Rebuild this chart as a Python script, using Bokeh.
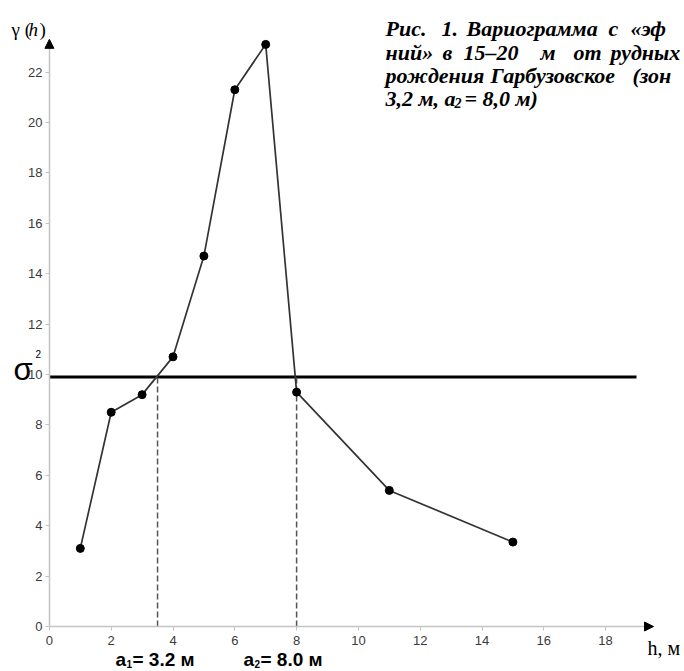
from bokeh.plotting import figure
from bokeh.models import Range1d, LinearAxis, FixedTicker, Arrow, NormalHead
from bokeh.core.properties import value
from bokeh.embed import file_html
from bokeh.resources import INLINE

# ---- data ----
h_vals = [1, 2, 3, 4, 5, 6, 7, 8, 11, 15]
gamma_vals = [3.1, 8.5, 9.2, 10.7, 14.7, 21.3, 23.1, 9.3, 5.4, 3.35]
sill = 9.9
range_x = [3.5, 8.0]
x_ticks = [0, 2, 4, 6, 8, 10, 12, 14, 16, 18]
y_ticks = [0, 2, 4, 6, 8, 10, 12, 14, 16, 18, 20, 22]
caption_lines = [
    ["Рис.", "1.", "Вариограмма", "с", "«эф"],
    ["ний»", "в", "15–20", "м", "от", "рудных"],
    ["рождения", "Гарбузовское", "(зон"],
]
a1_text = "= 3.2 м"
a2_text = "= 8.0 м"

# ---- pixel layout helpers ----
W, H = 684, 671
X0, XS = 48.9, 30.9
Y0, YS = 626.0, 25.2

def dx(px):
    return (px - X0) / XS

def dy(py):
    return (Y0 - py) / YS

p = figure(width=W, height=H, output_backend="svg", toolbar_location=None,
           x_range=Range1d(dx(0), dx(W)), y_range=Range1d(dy(H), dy(0)),
           x_axis_location=None, y_axis_location=None, min_border=0)
p.outline_line_color = None
p.grid.grid_line_color = None
p.background_fill_color = "white"

axis_col = "#c4c4c4"
lab_col = "#3a3a3a"

xaxis = LinearAxis(fixed_location=0, ticker=FixedTicker(ticks=x_ticks), bounds=(0, 19.5))
yaxis = LinearAxis(fixed_location=0, ticker=FixedTicker(ticks=y_ticks), bounds=(0, 23.2))
for ax in (xaxis, yaxis):
    ax.axis_line_color = axis_col
    ax.axis_line_width = 1.5
    ax.major_tick_line_color = axis_col
    ax.major_tick_out = 4
    ax.major_tick_in = 0
    ax.minor_tick_line_color = None
    ax.major_label_text_font = "Liberation Sans"
    ax.major_label_text_font_size = "13px"
    ax.major_label_text_color = lab_col
xaxis.major_label_standoff = 5
yaxis.major_label_standoff = 3
p.add_layout(xaxis, "below")
p.add_layout(yaxis, "left")

p.add_layout(Arrow(end=NormalHead(size=9, fill_color="black", line_color="black"),
                   x_start=19.2, y_start=0, x_end=19.55, y_end=0, line_alpha=0))
p.add_layout(Arrow(end=NormalHead(size=9, fill_color="black", line_color="black"),
                   x_start=0, y_start=22.8, x_end=0, y_end=23.3, line_alpha=0))

# sill line
p.line([0, 19.0], [sill, sill], line_color="black", line_width=3)
# range dashed lines
for a in range_x:
    p.line([a, a], [0, sill], line_color="#555555", line_width=1.5, line_dash="6 3")

# variogram
p.line(h_vals, gamma_vals, line_color="#333333", line_width=1.7)
p.scatter(h_vals, gamma_vals, size=8, color="black")

serif = value("Liberation Serif")
sans = value("Liberation Sans")

def txt(px, py, s, font=serif, size="17px", style="normal", color="black", align="left"):
    p.text(x=[dx(px)], y=[dy(py)], text=[s], text_font=font, text_font_size=size,
           text_font_style=style, text_color=color, text_baseline="alphabetic", text_align=align)

# y label gamma(h)
txt(11, 29, "γ (", size="19px")
txt(28, 29, "h", size="19px", style="italic")
txt(39, 29, ")", size="19px")

# x label
txt(647, 647, "h, м", size="20px")

# sigma^2
txt(13, 369, "σ", font=sans, size="31px")
txt(35, 353, "2", font=sans, size="10px")

# a1, a2 labels
txt(115, 659, "a", font=sans, size="19px", style="bold")
txt(126, 663, "1", font=sans, size="10px", style="bold")
txt(132, 659, a1_text, font=sans, size="19px", style="bold")
txt(243, 659, "a", font=sans, size="19px", style="bold")
txt(254, 663, "2", font=sans, size="10px", style="bold")
txt(260, 659, a2_text, font=sans, size="19px", style="bold")

# caption (justified -> words placed individually)
word_x = [
    [385, 441, 466, 608, 630],
    [385, 442, 463, 540, 573, 610],
    [385, 490, 632],
]
baselines = [28, 52, 75]
for words, xs, by in zip(caption_lines, word_x, baselines):
    for w, x in zip(words, xs):
        txt(x, by, w, size="22px", style="bold italic")
# line 4 with subscript
txt(385, 98, "3,2 м, a", size="22px", style="bold italic")
txt(454, 102, "2", size="14px", style="bold italic")
txt(464, 98, "= 8,0 м)", size="22px", style="bold italic")

open("out.html", "w").write(file_html(p, INLINE))
